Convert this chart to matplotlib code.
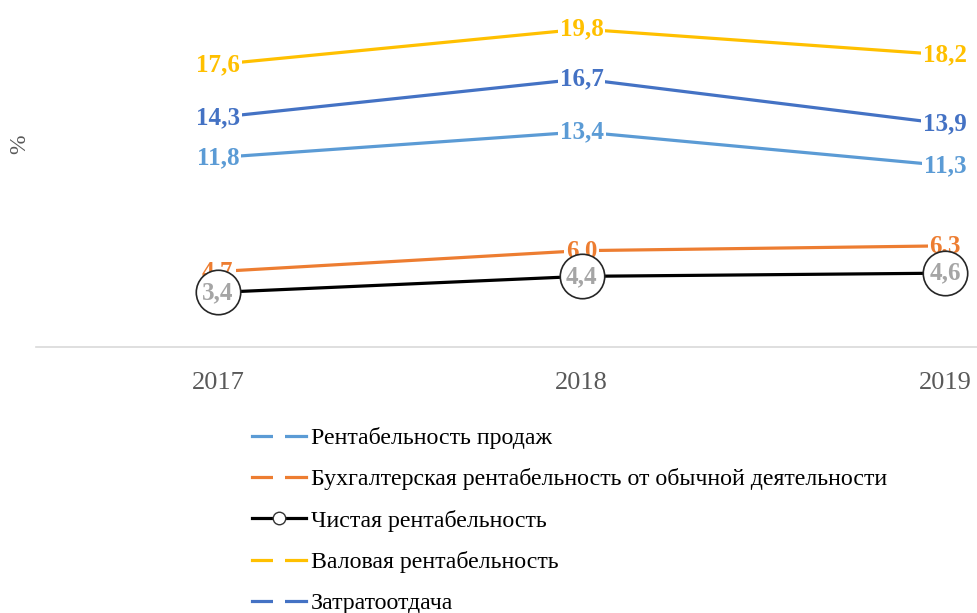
import matplotlib
matplotlib.use("Agg")
import matplotlib.pyplot as plt
from matplotlib.lines import Line2D

plt.rcParams['font.family'] = ['Liberation Serif', 'DejaVu Serif']

years = ['2017', '2018', '2019']
sales = [11.8, 13.4, 11.3]
accounting = [4.7, 6.0, 6.3]
net = [3.4, 4.4, 4.6]
gross = [17.6, 19.8, 18.2]
cost_return = [14.3, 16.7, 13.9]

labels = ['Рентабельность продаж',
          'Бухгалтерская рентабельность от обычной деятельности',
          'Чистая рентабельность',
          'Валовая рентабельность',
          'Затратоотдача']

c_sales = '#5B9BD5'
c_acc = '#ED7D31'
c_net = '#000000'
c_gross = '#FFC000'
c_cost = '#4472C4'

fig = plt.figure(figsize=(9.78, 6.13), dpi=100)
ax = fig.add_axes([36 / 978, 1 - 347 / 613, 1 - 36 / 978, 342 / 613])
x = list(range(len(years)))

series = [
    (sales, c_sales),
    (accounting, c_acc),
    (gross, c_gross),
    (cost_return, c_cost),
]
for vals, col in series:
    ax.plot(x, vals, color=col, lw=2.3, solid_capstyle='butt', zorder=2)
    for xi, v in zip(x, vals):
        ax.text(xi, v, f'{v:.1f}'.replace('.', ','), color=col, fontsize=18,
                fontweight='bold', ha='center', va='center', zorder=3,
                bbox=dict(boxstyle='square,pad=0.08', fc='white', ec='none'))

# чистая рентабельность - с кружками
ax.plot(x, net, color=c_net, lw=2.3, zorder=4)
ax.plot(x, net, ls='none', marker='o', ms=32, mfc='white', mec='#262626',
        mew=1.2, zorder=5)
for xi, v in zip(x, net):
    ax.text(xi, v, f'{v:.1f}'.replace('.', ','), color='#A5A5A5', fontsize=18,
            fontweight='bold', ha='center', va='center', zorder=6)

ax.set_xlim(-0.5, 2.09)
ax.set_ylim(0, 21.3)
ax.set_xticks(x)
ax.set_xticklabels(years, fontsize=19, color='#595959')
ax.tick_params(axis='x', length=0, pad=18)
ax.set_yticks([])
for s in ['top', 'left', 'right']:
    ax.spines[s].set_visible(False)
ax.spines['bottom'].set_color('#D9D9D9')
ax.spines['bottom'].set_linewidth(1.2)

fig.text(20 / 978, 1 - 144 / 613, '%', rotation=90, fontsize=17,
         color='#595959', ha='center', va='center')

# легенда
handles = []
for col in [c_sales, c_acc, c_net, c_gross, c_cost]:
    if col == c_net:
        h = Line2D([], [], color=col, lw=2.3, marker='o', ms=9,
                   mfc='white', mec='#333333', mew=1.0)
    else:
        h = Line2D([], [], color=col, lw=2.3, marker='s', ms=9,
                   mfc='white', mec='white', mew=0)
    handles.append(h)
fig.legend(handles, labels, loc='upper left',
           bbox_to_anchor=(252 / 978, 1 - 427 / 613), frameon=False,
           fontsize=17.2, handlelength=2.25, handletextpad=0.2,
           labelspacing=0.81, borderaxespad=0, borderpad=0)

fig.savefig('out.png', dpi=100)
